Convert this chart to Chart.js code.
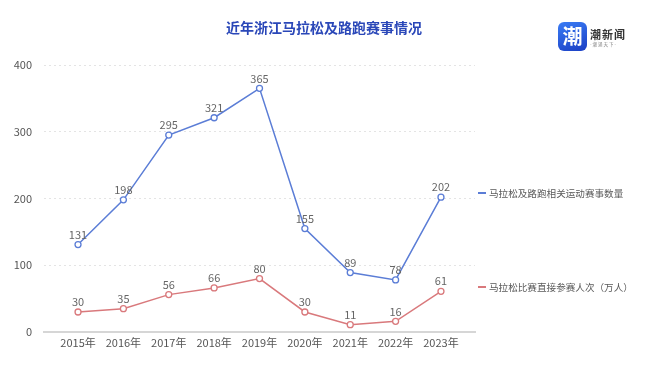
<!DOCTYPE html>
<html><head><meta charset="utf-8">
<script src="https://cdn.jsdelivr.net/npm/chart.js@4.4.0/dist/chart.umd.min.js"></script>
<style>
html,body{margin:0;padding:0;background:#fff;}
#wrap{position:relative;width:660px;height:372px;font-family:"Noto Sans CJK SC","Noto Sans",sans-serif;}
canvas{position:absolute;left:0;top:0;}
#title{position:absolute;left:0;width:648px;top:17px;text-align:center;font-size:14px;font-weight:bold;color:#2a47b8;letter-spacing:0px;}
#logo{position:absolute;left:558px;top:22px;width:29px;height:29px;border-radius:6px;background:linear-gradient(160deg,#3a7cf5,#1b3fc4);color:#fff;font-weight:bold;font-size:20px;line-height:27px;text-align:center;}
#logoTxt{position:absolute;left:590px;top:26px;font-size:11px;font-weight:bold;color:#333;letter-spacing:1px;}
#logoSub{position:absolute;left:590px;top:41px;font-size:5px;color:#888;transform:scale(0.9);transform-origin:left top;}
.leg{position:absolute;left:478px;font-size:9.6px;color:#5a5a5a;white-space:nowrap;}
.sw{position:absolute;left:478px;width:8px;height:2px;}
</style></head>
<body><div id="wrap">
<canvas id="c" width="660" height="372"></canvas>
<div id="title">近年浙江马拉松及路跑赛事情况</div>
<div id="logo">潮</div>
<div id="logoTxt">潮新闻</div>
<div id="logoSub">- 潮 涌 天 下 -</div>
<div class="sw" style="top:192px;background:#5b7dd6"></div>
<div class="leg" style="top:186px;left:489px">马拉松及路跑相关运动赛事数量</div>
<div class="sw" style="top:286px;background:#d9797c"></div>
<div class="leg" style="top:280px;left:489px">马拉松比赛直接参赛人次（万人）</div>
</div>
<script>
const categories = ['2015年','2016年','2017年','2018年','2019年','2020年','2021年','2022年','2023年'];
const eventCounts = [131,198,295,321,365,155,89,78,202];
const participants = [30,35,56,66,80,30,11,16,61];
const yTicks = [0,100,200,300,400];
const seriesNames = ['马拉松及路跑相关运动赛事数量','马拉松比赛直接参赛人次（万人）'];

const toXY = arr => arr.map((v,i)=>({x:i,y:v}));

const labelPlugin = {
  id:'vlabels',
  afterDatasetsDraw(chart){
    const ctx = chart.ctx;
    ctx.save();
    ctx.font = '11px "Noto Sans CJK SC","Noto Sans",sans-serif';
    ctx.fillStyle = '#666';
    ctx.textAlign = 'center';
    ctx.textBaseline = 'middle';
    chart.data.datasets.forEach((ds,di)=>{
      const meta = chart.getDatasetMeta(di);
      meta.data.forEach((pt,i)=>{
        ctx.fillText(String(ds.data[i].y), pt.x, pt.y - 10);
      });
    });
    ctx.restore();
  }
};

new Chart(document.getElementById('c'),{
  type:'line',
  data:{datasets:[
    {label:seriesNames[0],data:toXY(eventCounts),borderColor:'#5b7dd6',borderWidth:1.5,pointRadius:3,pointBorderWidth:1.3,pointBackgroundColor:'#fff',pointBorderColor:'#5b7dd6',tension:0},
    {label:seriesNames[1],data:toXY(participants),borderColor:'#d9797c',borderWidth:1.5,pointRadius:3,pointBorderWidth:1.3,pointBackgroundColor:'#fff',pointBorderColor:'#d9797c',tension:0}
  ]},
  options:{
    responsive:false,animation:false,
    layout:{padding:{top:65,left:0,right:185,bottom:0}},
    plugins:{legend:{display:false},tooltip:{enabled:false}},
    scales:{
      x:{type:'linear',min:-0.75,max:8.75,
        afterFit(s){s.height=40;},
        afterBuildTicks(s){s.ticks=categories.map((c,i)=>({value:i}));},
        ticks:{autoSkip:false,maxRotation:0,padding:4,color:'#555',font:{size:11,family:'"Noto Sans CJK SC","Noto Sans",sans-serif'},
          callback:(v)=>categories[v]??''},
        grid:{display:false,drawTicks:false},
        border:{display:true,color:'#d6d6d6',width:2}
      },
      y:{min:0,max:400,
        afterFit(s){s.width=44;},
        afterBuildTicks(s){s.ticks=yTicks.map(v=>({value:v}));},
        ticks:{padding:12,color:'#555',font:{size:11,family:'"Noto Sans CJK SC","Noto Sans",sans-serif'}},
        grid:{drawTicks:false,color:(c)=>c.tick&&c.tick.value===0?'rgba(0,0,0,0)':'#e4e4e4'},
        border:{display:false,dash:[2,3]}
      }
    }
  },
  plugins:[labelPlugin]
});
</script>
</body></html>
